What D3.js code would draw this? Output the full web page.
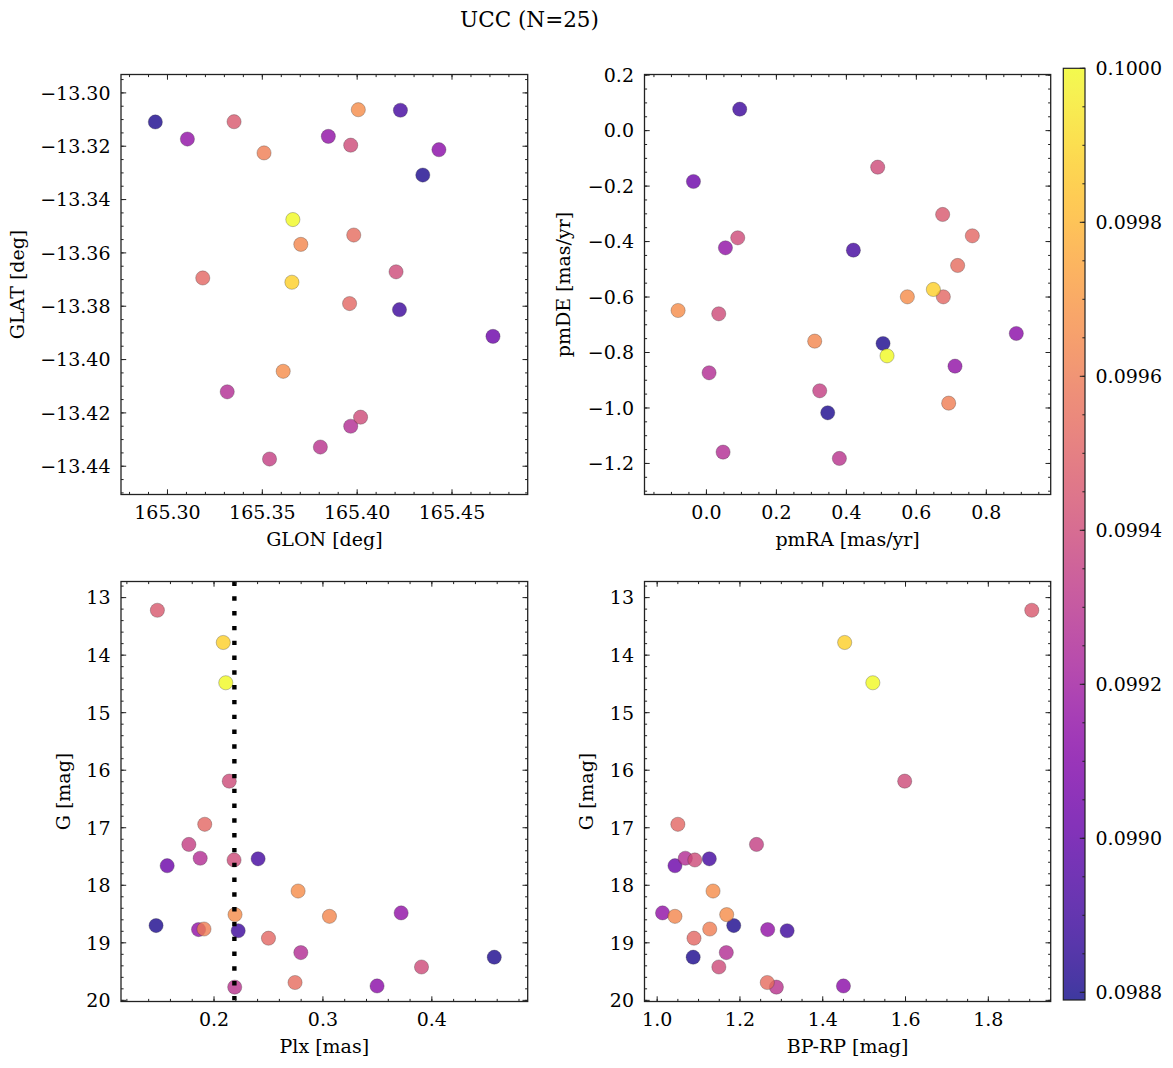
<!DOCTYPE html>
<html><head><meta charset="utf-8">
<script src="https://cdn.jsdelivr.net/npm/d3@7"></script>
<style>
body{margin:0;background:#fff}
text{font-family:"DejaVu Serif",serif;fill:#000}
</style>
</head><body>
<svg id="chart" width="1173" height="1068"></svg>
<script>
// ---- data (25 members) ----
const glon = [165.3351,165.3656,165.3661,165.4205,165.3186,165.3538,165.3966,165.3966,165.4228,165.4716,
              165.4006,165.3848,165.3703,165.3610,165.2936,165.3509,165.3105,165.4223,165.3960,165.3315,
              165.4346,165.4018,165.3982,165.3806,165.4431];
const glat = [-13.3108,-13.3710,-13.3475,-13.3671,-13.3694,-13.4373,-13.4250,-13.3196,-13.3065,-13.3913,
              -13.3063,-13.3163,-13.3568,-13.4044,-13.3109,-13.3225,-13.3173,-13.3813,-13.3790,-13.4121,
              -13.3308,-13.4216,-13.3533,-13.4328,-13.3213];
const pmra = [0.6752,0.6486,0.5162,0.4895,0.7600,0.3238,0.0476,0.0895,0.4200,-0.0371,
              0.5743,0.7105,0.3095,-0.0810,0.5048,0.6924,0.0543,0.0952,0.6771,0.0076,
              0.3467,0.0352,0.7180,0.3800,0.8857];
const pmde = [-0.3023,-0.5727,-0.8120,-0.1317,-0.3793,-0.9380,-1.1592,-0.3865,-0.4309,-0.1834,
              -0.5992,-0.8492,-0.7590,-0.6485,-0.7675,-0.9826,-0.4225,0.0774,-0.5992,-0.8732,
              -1.0174,-0.6605,-0.4862,-1.1820,-0.7314];
const plx  = [0.148,0.2085,0.2108,0.214,0.1915,0.1769,0.1873,0.2184,0.2405,0.157,
              0.2772,0.3718,0.306,0.2193,0.1468,0.1908,0.1858,0.2222,0.25,0.2797,
              0.4573,0.3905,0.2744,0.219,0.3497];
const gmag = [13.22,13.78,14.48,16.19,16.94,17.29,17.53,17.56,17.54,17.66,
              18.10,18.48,18.54,18.51,18.70,18.76,18.77,18.79,18.92,19.17,
              19.25,19.42,19.69,19.77,19.75];
const bprp = [1.905,1.453,1.521,1.598,1.050,1.240,1.068,1.091,1.126,1.043,
              1.135,1.013,1.043,1.168,1.185,1.127,1.267,1.314,1.089,1.167,
              1.087,1.149,1.266,1.288,1.450];
const prob = [0.09946,0.09988,0.10000,0.09940,0.09952,0.09935,0.09927,0.09940,0.09891,0.09903,
              0.09966,0.09915,0.09964,0.09966,0.09881,0.09961,0.09915,0.09889,0.09952,0.09927,
              0.09881,0.09940,0.09954,0.09930,0.09913];
const plxLine = 0.2187;
const titleText = "UCC (N=25)";

// axis limits and ticks
const glonLim = [165.2755, 165.4899], glonTicks = [165.30,165.35,165.40,165.45];
const glatLim = [-13.4506, -13.2931], glatTicks = [-13.30,-13.32,-13.34,-13.36,-13.38,-13.40,-13.42,-13.44];
const pmraLim = [-0.177, 0.984],      pmraTicks = [0.0,0.2,0.4,0.6,0.8];
const pmdeLim = [-1.312, 0.2024],     pmdeTicks = [0.2,0.0,-0.2,-0.4,-0.6,-0.8,-1.0,-1.2];
const plxLim  = [0.1146, 0.488],      plxTicks  = [0.2,0.3,0.4];
const gLim    = [12.72, 20.02],       gTicks    = [13,14,15,16,17,18,19,20];
const bprpLim = [0.9694, 1.9507],     bprpTicks = [1.0,1.2,1.4,1.6,1.8];
const cbLim   = [0.09879, 0.10000],   cbTicks   = [0.0988,0.0990,0.0992,0.0994,0.0996,0.0998,0.1000];

// ---- layout ----
const FONT = "'DejaVu Serif', serif";
const TICKFS = 19;
const svg = d3.select("#chart");
const LX=[121,527.7], RX=[644.5,1050.7], TY=[74.5,494.5], BY=[581.5,1001.5];
const color = v => d3.interpolatePlasma((v-cbLim[0])/(cbLim[1]-cbLim[0]));
const order = d3.range(prob.length).sort((a,b)=>prob[a]-prob[b]);
const fmt = d => (n => v => d3.format("."+n+"f")(v).replace("-","\u2212"))(d);

function minor(lim, step){
  const lo=Math.min(...lim), hi=Math.max(...lim), out=[];
  for(let k=Math.ceil(lo/step-1e-9); k*step<=hi+1e-9; k++) out.push(k*step);
  return out;
}
function txt(g){ return g.append("text").attr("font-family",FONT).attr("fill","#000"); }

function panel(cfg){
  const g = svg.append("g");
  const x = cfg.x, y = cfg.y;
  const [x0,x1] = x.range(), yr = y.range(), y0=Math.min(...yr), y1=Math.max(...yr);
  // points
  g.append("g").selectAll("circle").data(order).join("circle")
    .attr("cx", i=>x(cfg.xv[i])).attr("cy", i=>y(cfg.yv[i])).attr("r", 7.1)
    .attr("fill", i=>color(prob[i])).attr("fill-opacity",0.8)
    .attr("stroke","#333").attr("stroke-opacity",0.6).attr("stroke-width",0.5);
  if(cfg.extra) cfg.extra(g);
  // ticks
  const tk = g.append("g").attr("stroke","#222").attr("stroke-width",1);
  const xs = cfg.xTicks, ys = cfg.yTicks;
  const xm = minor(x.domain(), cfg.xMinor), ym = minor(y.domain(), cfg.yMinor);
  xm.forEach(v=>{const p=x(v); tk.append("line").attr("x1",p).attr("x2",p).attr("y1",y1).attr("y2",y1-2.6);
    tk.append("line").attr("x1",p).attr("x2",p).attr("y1",y0).attr("y2",y0+2.6);});
  xs.forEach(v=>{const p=x(v); tk.append("line").attr("x1",p).attr("x2",p).attr("y1",y1).attr("y2",y1-5.2);
    tk.append("line").attr("x1",p).attr("x2",p).attr("y1",y0).attr("y2",y0+5.2);});
  ym.forEach(v=>{const p=y(v); tk.append("line").attr("y1",p).attr("y2",p).attr("x1",x0).attr("x2",x0+2.6);
    tk.append("line").attr("y1",p).attr("y2",p).attr("x1",x1).attr("x2",x1-2.6);});
  ys.forEach(v=>{const p=y(v); tk.append("line").attr("y1",p).attr("y2",p).attr("x1",x0).attr("x2",x0+5.2);
    tk.append("line").attr("y1",p).attr("y2",p).attr("x1",x1).attr("x2",x1-5.2);});
  // frame
  g.append("rect").attr("x",x0).attr("y",y0).attr("width",x1-x0).attr("height",y1-y0)
    .attr("fill","none").attr("stroke","#222").attr("stroke-width",1.3);
  // tick labels
  const fx = fmt(cfg.xDec), fy = fmt(cfg.yDec);
  xs.forEach(v=>txt(g).attr("x",x(v)).attr("y",y1+24).attr("text-anchor","middle")
    .attr("font-size",TICKFS).text(fx(v)));
  ys.forEach(v=>txt(g).attr("x",x0-10.5).attr("y",y(v)).attr("dy","0.36em").attr("text-anchor","end")
    .attr("font-size",TICKFS).text(fy(v)));
  // axis labels
  txt(g).attr("x",(x0+x1)/2).attr("y",y1+51).attr("text-anchor","middle")
    .attr("font-size",19).text(cfg.xLabel);
  txt(g).attr("transform",`translate(${cfg.yLabelX},${(y0+y1)/2}) rotate(-90)`)
    .attr("text-anchor","middle").attr("font-size",19).text(cfg.yLabel);
}

panel({x:d3.scaleLinear(glonLim,LX), y:d3.scaleLinear(glatLim,[TY[1],TY[0]]), xv:glon, yv:glat,
  xTicks:glonTicks, yTicks:glatTicks, xMinor:0.01, yMinor:0.005, xDec:2, yDec:2,
  xLabel:"GLON [deg]", yLabel:"GLAT [deg]", yLabelX:23.5});
panel({x:d3.scaleLinear(pmraLim,RX), y:d3.scaleLinear(pmdeLim,[TY[1],TY[0]]), xv:pmra, yv:pmde,
  xTicks:pmraTicks, yTicks:pmdeTicks, xMinor:0.05, yMinor:0.05, xDec:1, yDec:1,
  xLabel:"pmRA [mas/yr]", yLabel:"pmDE [mas/yr]", yLabelX:570});
const xPlx = d3.scaleLinear(plxLim,LX), yG1 = d3.scaleLinear(gLim,[BY[0],BY[1]]);
panel({x:xPlx, y:yG1, xv:plx, yv:gmag,
  xTicks:plxTicks, yTicks:gTicks, xMinor:0.02, yMinor:0.2, xDec:1, yDec:0,
  xLabel:"Plx [mas]", yLabel:"G [mag]", yLabelX:70,
  extra: g => g.append("line").attr("x1",xPlx(plxLine)).attr("x2",xPlx(plxLine))
      .attr("y1",BY[0]).attr("y2",BY[1]).attr("stroke","#000").attr("stroke-width",4.4)
      .attr("stroke-dasharray","4.4,10.4")});
panel({x:d3.scaleLinear(bprpLim,RX), y:d3.scaleLinear(gLim,[BY[0],BY[1]]), xv:bprp, yv:gmag,
  xTicks:bprpTicks, yTicks:gTicks, xMinor:0.05, yMinor:0.2, xDec:1, yDec:0,
  xLabel:"BP-RP [mag]", yLabel:"G [mag]", yLabelX:593});

// ---- colorbar ----
const cbX=[1063.3,1085], cbY=[68.3,1000];
const cbScale = d3.scaleLinear(cbLim,[cbY[1],cbY[0]]);
const defs = svg.append("defs");
const grad = defs.append("linearGradient").attr("id","cbg").attr("x1",0).attr("y1",1).attr("x2",0).attr("y2",0);
d3.range(0,1.0001,0.02).forEach(t=>grad.append("stop").attr("offset",t).attr("stop-color",d3.interpolatePlasma(t)));
const cb = svg.append("g");
cb.append("rect").attr("x",cbX[0]).attr("y",cbY[0]).attr("width",cbX[1]-cbX[0]).attr("height",cbY[1]-cbY[0])
  .attr("fill","url(#cbg)").attr("fill-opacity",0.8);
const cbt = cb.append("g").attr("stroke","#222").attr("stroke-width",1);
minor(cbLim,0.00005).forEach(v=>cbt.append("line").attr("x1",cbX[1]).attr("x2",cbX[1]-2.6).attr("y1",cbScale(v)).attr("y2",cbScale(v)));
cbTicks.forEach(v=>cbt.append("line").attr("x1",cbX[1]).attr("x2",cbX[1]-5.2).attr("y1",cbScale(v)).attr("y2",cbScale(v)));
cb.append("rect").attr("x",cbX[0]).attr("y",cbY[0]).attr("width",cbX[1]-cbX[0]).attr("height",cbY[1]-cbY[0])
  .attr("fill","none").attr("stroke","#222").attr("stroke-width",1.2);
cbTicks.forEach(v=>txt(cb).attr("x",cbX[1]+10.5).attr("y",cbScale(v)).attr("dy","0.36em")
  .attr("font-size",TICKFS).text(d3.format(".4f")(v)));

// ---- title ----
txt(svg).attr("x",529.5).attr("y",27).attr("text-anchor","middle")
  .attr("font-size",21.5).text(titleText);
</script>
</body></html>
